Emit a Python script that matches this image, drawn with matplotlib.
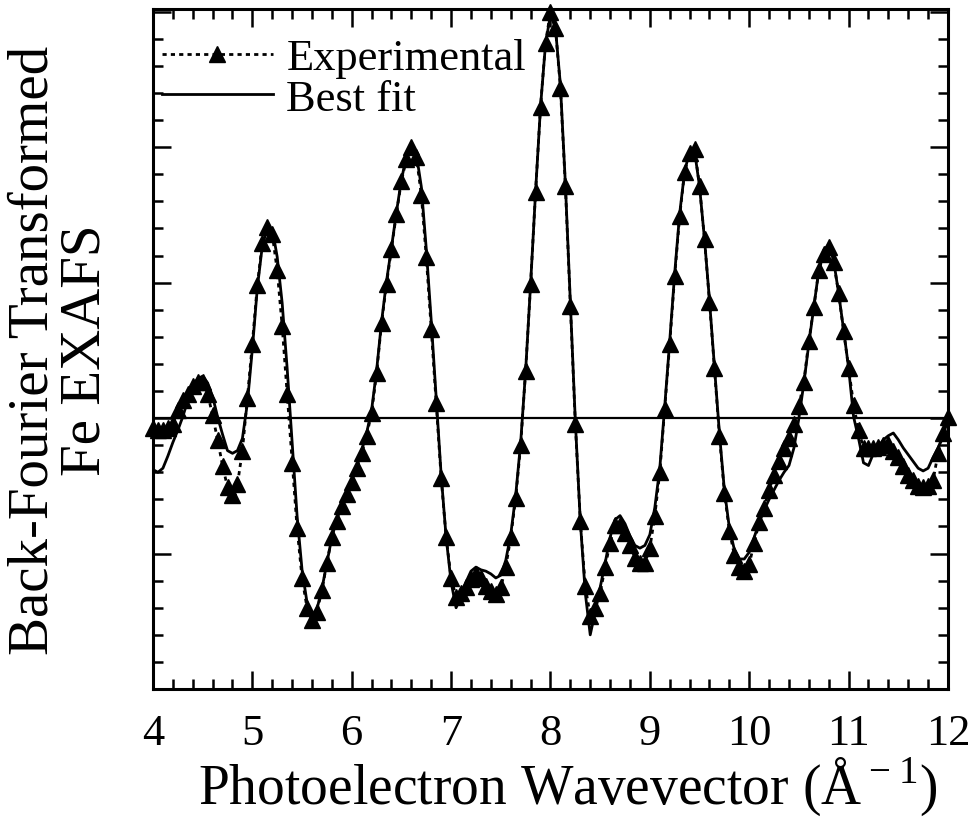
import numpy as np
import matplotlib
matplotlib.use("Agg")
import matplotlib.pyplot as plt
from matplotlib.ticker import MultipleLocator, NullFormatter

plt.rcParams["font.family"] = ["Liberation Serif", "DejaVu Serif"]
plt.rcParams["mathtext.fontset"] = "custom"
plt.rcParams["mathtext.rm"] = "Liberation Serif"

# photoelectron wavevector grid (A^-1), sampled every 0.05 from 4 to 12
k = np.linspace(4.0, 12.0, 161)

# back-transformed Fe EXAFS, experimental (arbitrary units)
experimental = [
    -0.07, -0.09, -0.09, -0.07, -0.04, 0.06, 0.13, 0.18, 0.24, 0.27,
    0.27, 0.18, 0.02, -0.16, -0.35, -0.51, -0.57, -0.49, -0.24, 0.15,
    0.55, 0.98, 1.29, 1.41, 1.36, 1.09, 0.68, 0.18, -0.33, -0.81,
    -1.18, -1.40, -1.49, -1.43, -1.27, -1.07, -0.88, -0.76, -0.65, -0.56,
    -0.47, -0.37, -0.26, -0.13, 0.04, 0.33, 0.70, 0.99, 1.25, 1.51,
    1.75, 1.91, 2.00, 1.93, 1.65, 1.19, 0.66, 0.11, -0.44, -0.88,
    -1.18, -1.32, -1.29, -1.25, -1.19, -1.15, -1.18, -1.24, -1.28, -1.30,
    -1.25, -1.10, -0.88, -0.59, -0.20, 0.35, 0.99, 1.67, 2.30, 2.77,
    3.00, 2.88, 2.44, 1.71, 0.83, -0.04, -0.76, -1.24, -1.46, -1.40,
    -1.29, -1.10, -0.92, -0.79, -0.79, -0.85, -0.94, -1.03, -1.07, -1.07,
    -0.96, -0.72, -0.40, 0.07, 0.55, 1.05, 1.49, 1.82, 1.96, 1.99,
    1.71, 1.32, 0.86, 0.37, -0.13, -0.55, -0.83, -1.01, -1.10, -1.13,
    -1.08, -0.92, -0.77, -0.66, -0.53, -0.42, -0.32, -0.22, -0.15, -0.04,
    0.09, 0.27, 0.57, 0.82, 1.09, 1.21, 1.26, 1.15, 0.92, 0.64,
    0.37, 0.10, -0.09, -0.22, -0.22, -0.22, -0.21, -0.20, -0.19, -0.24,
    -0.29, -0.35, -0.42, -0.46, -0.50, -0.51, -0.50, -0.46, -0.26, -0.11,
    0.01,
]

# best fit, same grid
best_fit = [
    -0.38, -0.40, -0.37, -0.28, -0.18, -0.09, 0.01, 0.13, 0.24, 0.29,
    0.31, 0.26, 0.16, 0.01, -0.12, -0.24, -0.26, -0.24, -0.15, 0.11,
    0.51, 0.96, 1.27, 1.40, 1.40, 1.19, 0.85, 0.37, -0.18, -0.72,
    -1.12, -1.36, -1.46, -1.41, -1.26, -1.07, -0.88, -0.75, -0.64, -0.55,
    -0.46, -0.36, -0.24, -0.11, 0.06, 0.35, 0.71, 1.01, 1.26, 1.52,
    1.76, 1.93, 2.00, 1.95, 1.71, 1.25, 0.72, 0.15, -0.42, -0.88,
    -1.21, -1.40, -1.32, -1.21, -1.13, -1.10, -1.12, -1.13, -1.15, -1.18,
    -1.16, -1.05, -0.86, -0.57, -0.18, 0.35, 0.99, 1.67, 2.30, 2.76,
    2.98, 2.88, 2.46, 1.73, 0.85, -0.02, -0.76, -1.29, -1.60, -1.43,
    -1.25, -1.07, -0.88, -0.75, -0.72, -0.78, -0.87, -0.94, -0.96, -0.94,
    -0.86, -0.66, -0.37, 0.09, 0.57, 1.07, 1.51, 1.82, 1.97, 1.97,
    1.71, 1.32, 0.87, 0.38, -0.11, -0.53, -0.81, -0.97, -1.04, -1.04,
    -0.99, -0.88, -0.77, -0.68, -0.60, -0.53, -0.46, -0.40, -0.35, -0.22,
    0.00, 0.26, 0.55, 0.82, 1.09, 1.24, 1.28, 1.16, 0.92, 0.65,
    0.37, 0.01, -0.15, -0.33, -0.35, -0.26, -0.21, -0.16, -0.13, -0.11,
    -0.16, -0.22, -0.27, -0.32, -0.37, -0.39, -0.37, -0.29, -0.22, -0.13,
    -0.01,
]

fig = plt.figure(figsize=(9.7, 8.2), dpi=100)
ax = fig.add_axes([0.1577, 0.1585, 0.8196, 0.8293])

ax.axhline(0, color="black", linewidth=1.6, zorder=1)
ax.plot(k, experimental, color="black", linestyle=(0, (1.5, 1.5)), linewidth=2.0,
        marker="^", markersize=11, label="Experimental", clip_on=False, zorder=3)
ax.plot(k, best_fit, color="black", linestyle="-", linewidth=2.0,
        label="Best fit", zorder=2)

ax.set_xlim(4, 12)
ax.set_ylim(-2, 3.02)
ax.xaxis.set_major_locator(MultipleLocator(1))
ax.xaxis.set_minor_locator(MultipleLocator(0.2))
ax.yaxis.set_major_locator(MultipleLocator(1))
ax.yaxis.set_minor_locator(MultipleLocator(0.2))
ax.yaxis.set_major_formatter(NullFormatter())

ax.tick_params(which="both", direction="in", top=True, right=True, width=1.8)
ax.tick_params(which="major", length=13)
ax.tick_params(which="minor", length=7)
ax.tick_params(axis="x", labelsize=32, pad=17)
for s in ax.spines.values():
    s.set_linewidth(2.2)

ax.set_xlabel(r"Photoelectron Wavevector (Å$^{\rm -1}$)", fontsize=40, labelpad=2)
ax.xaxis.label.set_x(0.521)
ax.set_ylabel("Back-Fourier Transformed\nFe EXAFS", fontsize=41, labelpad=26,
              linespacing=1.0)

ax.legend(loc="upper left", bbox_to_anchor=(0.0, 0.97), frameon=False,
          fontsize=32, handlelength=2.5, handletextpad=0.3, labelspacing=0.0,
          borderaxespad=0.1, borderpad=0.1, numpoints=1)

fig.savefig("out.png", dpi=100)
